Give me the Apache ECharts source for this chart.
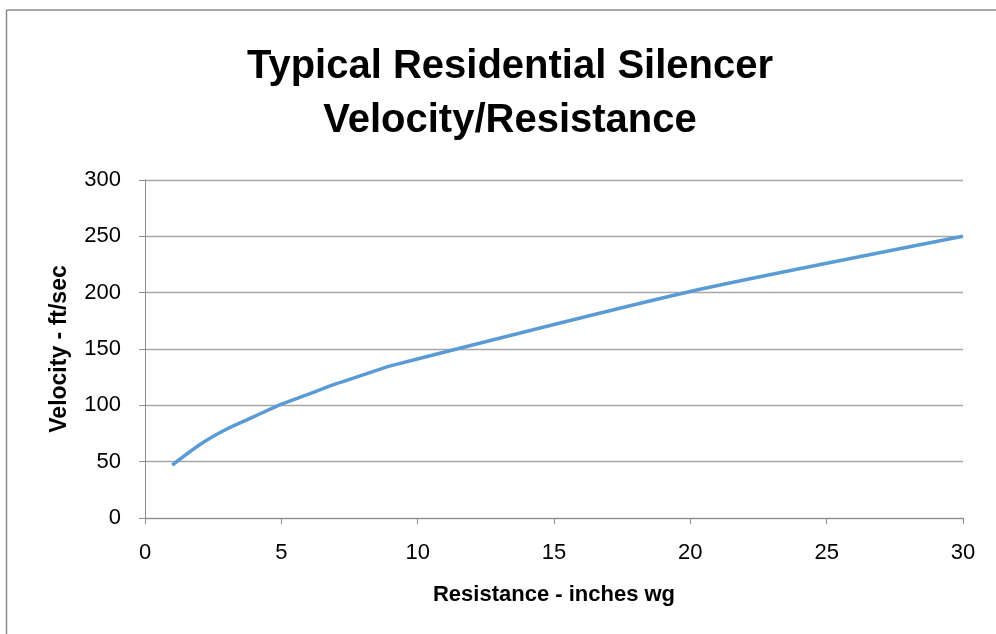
<!DOCTYPE html>
<html>
<head>
<meta charset="utf-8">
<script src="https://cdn.jsdelivr.net/npm/echarts@6/dist/echarts.min.js"></script>
<style>
html,body{margin:0;padding:0;background:#fff;}
#c{width:996px;height:634px;}
</style>
</head>
<body>
<div id="c"></div>
<script>
const titleLines = ['Typical Residential Silencer', 'Velocity/Resistance'];
const xAxisName = 'Resistance - inches wg';
const yAxisName = 'Velocity - ft/sec';
const resistance = [1, 2, 3, 4, 5, 6, 7, 8, 9, 20, 30];
const velocity = [47, 65, 79, 90, 101, 110, 119, 127, 135, 201, 250];

const FONT = '"Liberation Sans", Arial, sans-serif';
const chart = echarts.init(document.getElementById('c'));
chart.setOption({
  backgroundColor: '#ffffff',
  animation: false,
  title: {
    text: titleLines.join('\n'),
    left: 505,
    textAlign: 'center',
    top: 35,
    textStyle: { fontFamily: FONT, fontSize: 40, fontWeight: 'bold', color: '#000', lineHeight: 54 }
  },
  graphic: [
    { type: 'line', shape: { x1: 6.5, y1: 10, x2: 996, y2: 10 }, style: { stroke: '#8a8a8a', lineWidth: 1.5 } },
    { type: 'line', shape: { x1: 6.5, y1: 10, x2: 6.5, y2: 634 }, style: { stroke: '#8a8a8a', lineWidth: 1.5 } }
  ],
  grid: { left: 145, right: 33, top: 180, bottom: 116 },
  xAxis: {
    type: 'value',
    min: 0, max: 30, interval: 5,
    name: xAxisName,
    nameLocation: 'middle',
    nameGap: 66,
    nameTextStyle: { fontFamily: FONT, fontSize: 22, fontWeight: 'bold', color: '#000' },
    axisLine: { show: true, lineStyle: { color: '#8c8c8c', width: 1 } },
    axisTick: { show: true, length: 6, lineStyle: { color: '#8c8c8c' } },
    axisLabel: { fontFamily: FONT, fontSize: 22, color: '#000', margin: 24 },
    splitLine: { show: false }
  },
  yAxis: {
    type: 'value',
    min: 0, max: 300, interval: 50,
    name: yAxisName,
    nameLocation: 'middle',
    nameGap: 74,
    nameRotate: 90,
    nameTextStyle: { fontFamily: FONT, fontSize: 23, fontWeight: 'bold', color: '#000' },
    axisLine: { show: true, lineStyle: { color: '#8c8c8c', width: 1 } },
    axisTick: { show: true, length: 6, inside: false, lineStyle: { color: '#8c8c8c' } },
    axisLabel: { fontFamily: FONT, fontSize: 22, color: '#000', margin: 24 },
    splitLine: { show: true, lineStyle: { color: '#a6a6a6', width: 1.3 } }
  },
  series: [{
    type: 'line',
    data: resistance.map((x, i) => [x, velocity[i]]),
    showSymbol: false,
    smooth: 0.2,
    lineStyle: { color: '#5b9bd5', width: 3.5 }
  }]
});
</script>
</body>
</html>
